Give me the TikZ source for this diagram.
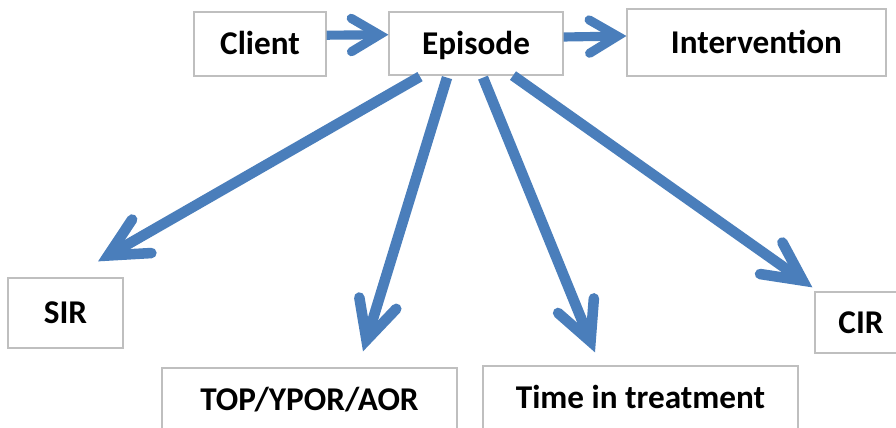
\documentclass[tikz,border=0pt]{standalone}
\usepackage{fontspec}
\setmainfont{Carlito}
\usetikzlibrary{calc,arrows.meta}
\definecolor{arrowblue}{HTML}{4A7EBB}
\definecolor{boxgray}{HTML}{BFBFBF}
\tikzset{
  box/.style={draw=boxgray, line width=0.7pt, fill=white, inner sep=0pt,
    font=\fontsize{18.9}{22}\selectfont\bfseries, text height=12pt, text depth=0pt},
  arr/.style={draw=arrowblue, line width=6pt,
    -{Straight Barb[length=22pt, width=22pt, line cap=round, line join=miter]}},
  shortarr/.style={draw=arrowblue, line width=5.2pt,
    -{Straight Barb[length=16pt, width=19pt, line cap=round, line join=miter]}}
}
\begin{document}
\begin{tikzpicture}[x=0.02cm, y=-0.02cm]
		%%%%% START %%%%%
		\useasboundingbox (0, 0) rectangle (896, 428);
		
		\node[box, minimum width=2.64cm, minimum height=1.28cm] (client) at (260, 44) {Client};
		\node[box, minimum width=3.48cm, minimum height=1.26cm] (episode) at (476, 43.5) {Episode};
		\node[box, minimum width=5.18cm, minimum height=1.34cm] (intervention) at (756.5, 42.5) {Intervention};
		
		\node[box, minimum width=2.30cm, minimum height=1.40cm] (sir) at (65.5, 313) {SIR};
		\node[box, minimum width=5.90cm, minimum height=1.28cm] (top) at (309.5, 400) {TOP/YPOR/AOR};
		\node[box, minimum width=6.30cm, minimum height=1.28cm] (time) at (640.5, 398) {Time in treatment};
		\node[box, minimum width=1.84cm, minimum height=1.22cm] (cir) at (861, 322.5) {CIR};
		
		\draw[shortarr] ([yshift=5pt]client.east) -- ([yshift=5pt]episode.west);
		\draw[shortarr] ([yshift=3.7pt]episode.east) -- ([yshift=3.7pt]intervention.west);
		
		\draw[arr] ($(episode.south)+(-56, 1)$) -- ($(sir.north)+(32.5, -16)$);
		\draw[arr] ($(episode.south)+(-29, 2)$) -- ($(top.north)+(53.5, -16)$);
		\draw[arr] ($(episode.south)+(7, 2)$) -- ($(time.north)+(-45.5, -13)$);
		\draw[arr] ($(episode.south)+(37, 0)$) -- ($(cir.north west)+(-2, -4)$);
		%%%%% END %%%%%
\end{tikzpicture}
\end{document}
